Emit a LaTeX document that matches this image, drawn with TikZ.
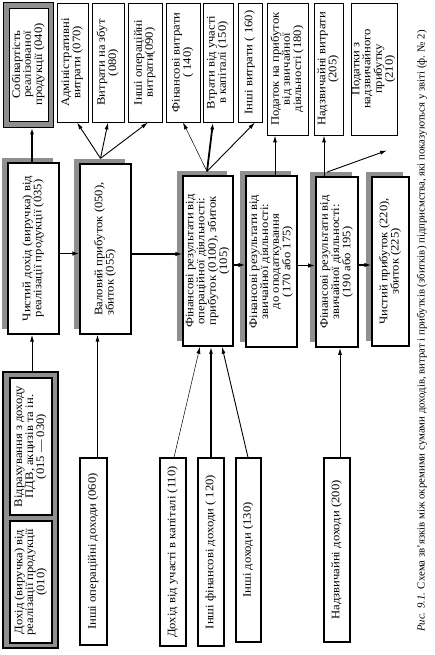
\documentclass[tikz,border=0pt]{standalone}
\usepackage{fontspec}
\setmainfont{Liberation Serif}
\newfontfamily\boxfont{Liberation Serif}[FakeStretch=1.1]
\usetikzlibrary{arrows.meta,shadows,calc}
\definecolor{shadowc}{RGB}{143,143,143}
\newcommand{\rt}[1]{\rotatebox{90}{\begin{tabular}{@{}c@{}}#1\end{tabular}}}
\newcommand{\rtl}[1]{\rotatebox{90}{\begin{tabular}{@{}l@{}}#1\end{tabular}}}
\begin{document}
\begin{tikzpicture}[x=1pt,y=-1pt,
  txt/.style={font=\boxfont\fontsize{11.5}{10.6}\selectfont, inner sep=0pt, align=center},
  tbox/.style={txt, draw, line width=0.9pt, fill=white},
  mbox/.style={txt, draw, line width=1.3pt, fill=white,
     drop shadow={shadow xshift=-6pt, shadow yshift=5pt, fill=shadowc, draw=none, opacity=1}},
  bbox/.style={txt, draw, line width=1.2pt, fill=white},
  sz/.style 2 args={minimum width=#1pt, minimum height=#2pt},
  arr/.style={-{Latex[length=7pt,width=4pt]}, line width=0.9pt},
  thinarr/.style={arr, line width=0.5pt},
  thickarr/.style={arr, line width=1.8pt},
  harr/.style={-{Latex[length=7pt,width=4.5pt]}, line width=1.4pt}
]
\useasboundingbox (0,0) rectangle (434,655);
% ---------- top row ----------
\node[draw, line width=0.9pt, fill=shadowc, sz={50}{125}, inner sep=0pt] (sobo) at (28,64.5) {};
\node[tbox, sz={39}{113}] (sob) at (28.5,64.5) {\rt{Собівартість\\реалізованої\\продукції (040)}};
\node[tbox, sz={31}{119}] (adm) at (72.5,62.5) {\rt{Адміністративні\\витрати (070)}};
\node[tbox, sz={32}{119}] (zbut) at (108,62.5) {\rt{Витрати на збут\\(080)}};
\node[tbox, sz={34}{119}] (inop) at (145,62.5) {\rt{Інші операційні\\витрати(090)}};
\node[tbox, sz={34}{119}] (finv) at (183,62.5) {\rt{Фінансові витрати\\( 140)}};
\node[tbox, sz={30}{119}] (vtr) at (218,62.5) {\rt{Втрати від участі\\в капіталі (150)}};
\node[tbox, sz={24}{119}] (inv) at (250,62.5) {\rt{Інші витрати ( 160)}};
\node[tbox, sz={41}{132}] (pod) at (287.5,69) {\rt{Податок на прибуток\\від звичайної\\діяльності (180)}};
\node[tbox, sz={29}{132}] (nadv) at (328.5,69) {\rt{Надзвичайні витрати\\(205)}};
\node[tbox, sz={46}{132}] (podn) at (374,69) {\rt{Податки з\\надзвичайного\\прибутку\\(210)}};
% ---------- middle row ----------
\node[mbox, sz={51}{171}] (chd) at (33.5,248.5) {\rt{Чистий дохід (виручка) від\\реалізації продукції (035)}};
\node[mbox, sz={51}{170}] (val) at (105.5,249) {\rtl{Валовий прибуток (050),\\збиток (055)}};
\node[mbox, sz={50}{170}] (fop) at (208,261) {\rt{Фінансові результати від\\операційної діяльності:\\прибуток (0100), збиток\\(105)}};
\node[mbox, sz={51}{171}] (fzd) at (271.5,261.5) {\rt{Фінансові результати від\\звичайної діяльності:\\до оподаткування\\(170 або 175)}};
\node[mbox, sz={42}{170}, line width=1.8pt] (fzv) at (337,262) {\rt{Фінансові результати від\\звичайної діяльності:\\(190 або 195)}};
\node[mbox, sz={37}{169}] (chp) at (390.5,261.5) {\rt{Чистий прибуток (220),\\збиток (225)}};
% ---------- bottom row ----------
\node[draw, line width=1.2pt, fill=shadowc, sz={55}{276}, inner sep=0pt] (dbl) at (30.5,510) {};
\node[bbox, sz={42}{137}] (vid) at (31,446.5) {\rt{Відрахування з доходу\\ПДВ, акцизів та ін.\\(015 — 030)}};
\node[bbox, sz={42}{122}] (doh) at (31,582) {\rt{Дохід (виручка) від\\реалізації продукції\\(010)}};
\node[bbox, sz={27}{187}] (iod) at (93.5,551.5) {\rt{Інші операційні доходи (060)}};
\node[bbox, sz={26}{188}] (duk) at (173,552) {\rt{Дохід від участі в капіталі (110)}};
\node[bbox, sz={26}{188}] (ifd) at (211,552) {\rt{Інші фінансові доходи ( 120)}};
\node[bbox, sz={25}{184}] (ind) at (248.5,550) {\rt{Інші доходи (130)}};
\node[bbox, sz={26}{184}] (ndd) at (337,550) {\rt{Надзвичайні доходи (200)}};
% ---------- caption ----------
\node[inner sep=0pt, rotate=90, font=\fontsize{10.8}{12}\selectfont] (cap) at (422,331)
  {\textit{Рис. 9.1.} Схема зв’язків між окремими сумами доходів, витрат і прибутків (збитків) підприємства, які показуються у звіті (ф. № 2)};
% ---------- connectors ----------
\coordinate (valtop) at ([xshift=-5pt,yshift=5pt]val.north);
\coordinate (foptop) at ([xshift=-1pt,yshift=4pt]fop.north);
\coordinate (fzvtop) at ([xshift=-10pt,yshift=4pt]fzv.north);
\coordinate (podnend) at ([xshift=13pt,yshift=-15pt]podn.south);
\draw[arr] ([xshift=1.5pt]dbl.north) -- ([xshift=1.5pt]dbl.north |- chd.south);
\draw[thickarr] ([xshift=-1.5pt]chd.north) -- ([xshift=-1.5pt]chd.north |- sobo.south);
\draw[arr] (valtop) -- ([xshift=4.5pt]adm.south);
\draw[arr] (valtop) -- (zbut.south);
\draw[arr] (valtop) -- ([xshift=3pt]inop.south);
\draw[thinarr] (foptop) -- (finv.south);
\draw[thickarr] (foptop) -- ([xshift=-5pt]vtr.south);
\draw[arr] (foptop) -- ([xshift=5pt]inv.south);
\draw[arr] ([xshift=3.5pt]fzd.north) -- ([xshift=3.5pt]fzd.north |- pod.south);
\draw[arr] ([xshift=-13pt]fzv.north) -- ([xshift=-13pt]fzv.north |- nadv.south);
\draw[arr] (fzvtop) -- (podnend);
\draw[harr] ([yshift=-5pt]chd.east) -- ([yshift=-5pt]chd.east -| val.west);
\draw[harr] ([yshift=-5pt]val.east) -- ([yshift=-5pt]val.east -| fop.west);
\draw[harr] ([yshift=-4pt]fop.east) -- ([yshift=-4pt]fop.east -| fzd.west);
\draw[harr] ([yshift=-4pt]fzd.east) -- ([yshift=-4pt]fzd.east -| fzv.west);
\draw[harr] ([yshift=-3pt]fzv.east) -- ([yshift=-3pt]fzv.east -| chp.west);
\draw[arr] ([xshift=4pt]iod.north) -- ([xshift=4pt]iod.north |- val.south);
\draw[thinarr] ([xshift=1pt]duk.north) -- ([xshift=-8pt]fop.south);
\draw[thickarr] (ifd.north) -- (ifd.north |- fop.south);
\draw[arr] ([xshift=-0.5pt]ind.north) -- ([xshift=14pt]fop.south);
\draw[arr] ([xshift=3pt]ndd.north) -- ([xshift=3pt]ndd.north |- fzv.south);
\end{tikzpicture}
\end{document}
